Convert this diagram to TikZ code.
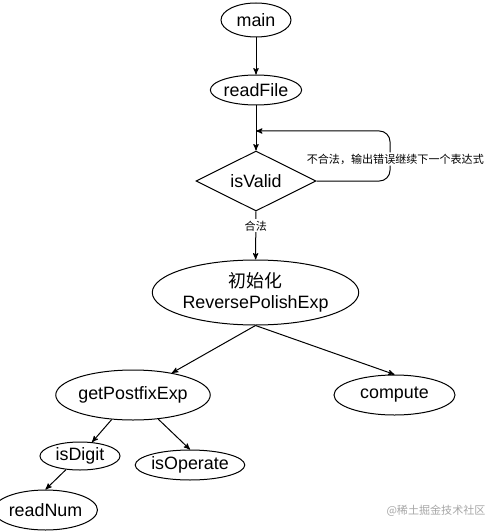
\documentclass[tikz,border=0pt]{standalone}
\usepackage{fontspec}
\setmainfont{Liberation Sans}
\newfontfamily\cjk{Noto Sans CJK SC}
\usetikzlibrary{arrows,positioning,shapes.geometric}
\tikzstyle{proc}=[ellipse,draw=black,line width=0.75pt,fill=white,inner sep=0pt,font=\fontsize{13.4pt}{15.5pt}\selectfont]
\tikzstyle{check}=[diamond,draw=black,line width=0.75pt,fill=white,inner sep=0pt,aspect=2,font=\fontsize{13.4pt}{15.5pt}\selectfont]
\tikzstyle{note}=[fill=white,inner sep=1pt,font=\cjk\fontsize{8.3pt}{10pt}\selectfont]
\begin{document}
\begin{tikzpicture}[x=0.75pt,y=-0.75pt,>=stealth',line width=0.75pt]
            \useasboundingbox (0,0) rectangle (497,531);

            % main chain
            \node[proc,minimum width=52.5pt,minimum height=25.5pt] (main) at (256,20) {main};
            \node[proc,minimum width=60.75pt,minimum height=22.5pt] (readFile) at (256,90) {readFile};
            \node[check,minimum width=90pt,minimum height=45pt] (isValid) at (256,181) {isValid};
            \node[proc,minimum width=147pt,minimum height=48.75pt,align=center] (init) at (255.5,292.5)
                {{\cjk 初始化}\\ReversePolishExp};

            \coordinate (loopend) at (256,131);
            \coordinate (looptop) at (390,131);

            \path[->] (main) edge node {} (readFile);
            \path[->] (readFile) edge node {} (isValid);
            \draw[->,rounded corners=8pt] (isValid.east) -| (looptop)
                node[note,pos=0.72,xshift=4pt] {不合法，输出错误继续下一个表达式} -- (loopend);
            \path[->] (isValid) edge node[note,pos=0.3] {合法} (init);

            % sub calls
            \node[proc,minimum width=94.5pt,minimum height=37.5pt] (getPostfixExp) at (133,395) {getPostfixExp};
            \node[proc,minimum width=90.75pt,minimum height=30pt] (compute) at (394.5,395) {compute};
            \node[proc,minimum width=60pt,minimum height=21pt] (isDigit) at (80,456) {isDigit};
            \node[proc,minimum width=75pt,minimum height=22.5pt] (isOperate) at (190,465) {isOperate};
            \node[proc,minimum width=67.5pt,minimum height=30pt] (readNum) at (45.5,510) {readNum};

            \path[->] (init.south) edge node {} (getPostfixExp);
            \path[->] (init.south) edge node {} (compute.north);
            \path[->] (getPostfixExp) edge node {} (isDigit);
            \path[->] (getPostfixExp) edge node {} (isOperate.north);
            \path[->] (isDigit) edge node {} (readNum.north);

            % watermark
            \node[font=\cjk\fontsize{8.3pt}{10pt}\selectfont,text=black!35] (mark) at (436,511) {@稀土掘金技术社区};

        \end{tikzpicture}
\end{document}
